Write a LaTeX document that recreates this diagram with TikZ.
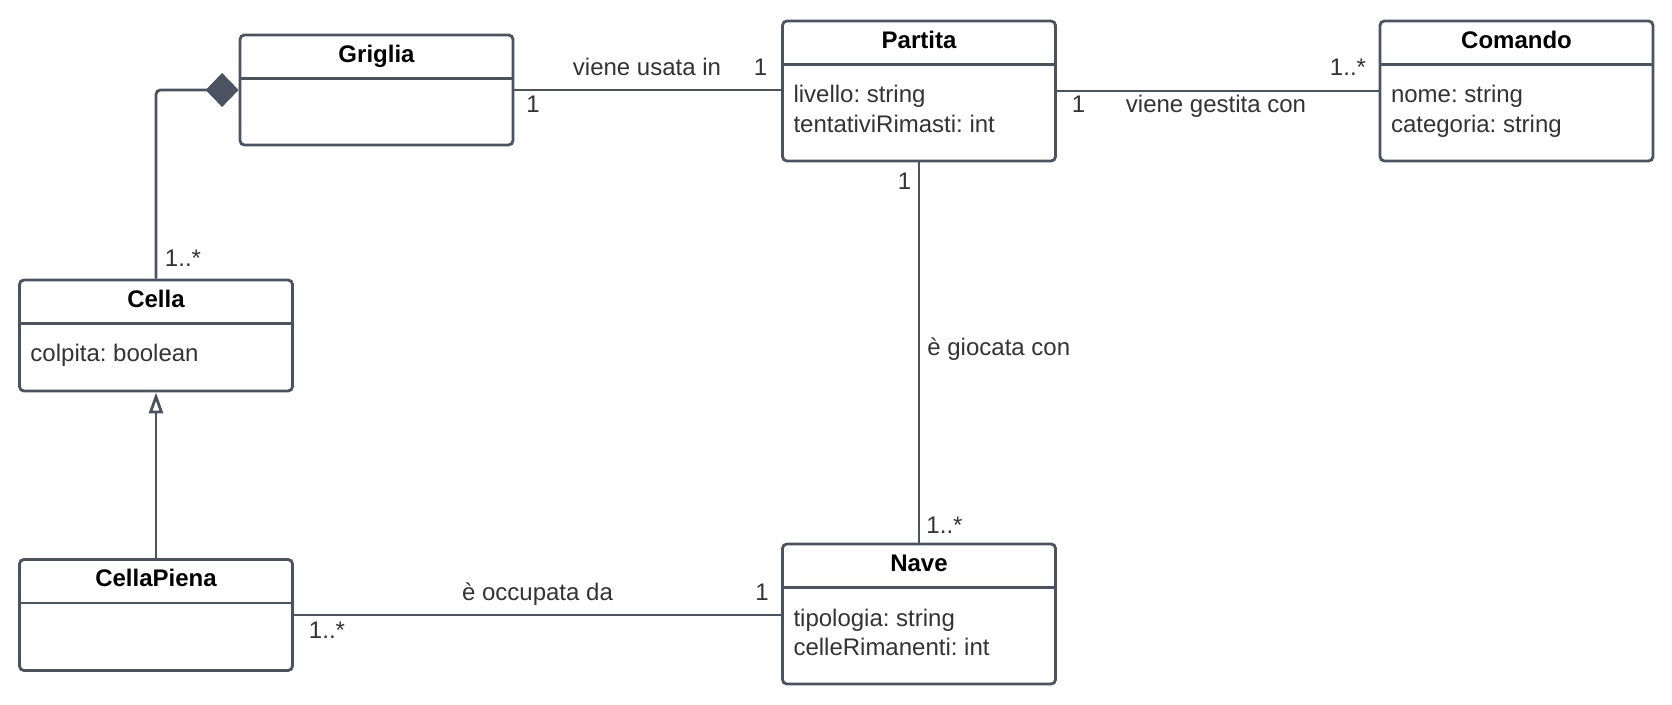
\documentclass[tikz,border=0pt]{standalone}
\usepackage{fontspec}
\setmainfont{Liberation Sans}
\frenchspacing
\usetikzlibrary{positioning,arrows.meta}

\definecolor{umlline}{HTML}{4B5260}
\definecolor{umltext}{HTML}{333333}

\begin{document}
\begin{tikzpicture}[x=0.5pt,y=-0.5pt,
  classbox/.style={draw=umlline,line width=1.4pt,rounded corners=2.2pt,minimum width=136.5pt,inner sep=0pt},
  classname/.style={anchor=base,inner sep=0pt,font=\fontsize{12pt}{14.3pt}\selectfont\bfseries},
  attr/.style={anchor=base west,inner sep=0pt,text=umltext,font=\fontsize{12pt}{14.3pt}\selectfont},
  lbl/.style={anchor=base,inner sep=0pt,text=umltext,font=\fontsize{12pt}{14.3pt}\selectfont},
  link/.style={draw=umlline,line width=1.4pt}]
\useasboundingbox (0,0) rectangle (1672,705);
% classes
\node[classbox,minimum height=55pt] (griglia) at (376.5,90) {};
\node[classbox,minimum height=70pt] (partita) at (919,91) {};
\node[classbox,minimum height=70pt] (comando) at (1516.5,91) {};
\node[classbox,minimum height=55.5pt] (cella) at (156,335.5) {};
\node[classbox,minimum height=55.5pt] (cellapiena) at (156,615) {};
\node[classbox,minimum height=70pt] (nave) at (919,614) {};
\foreach \c in {griglia,partita,comando,cella,cellapiena,nave}
  \draw[umlline,line width=1.4pt] ([yshift=-22.5pt]\c.north west) -- ([yshift=-22.5pt]\c.north east);
\node[classname] (griglia-t) at ([yshift=-14.4pt]griglia.north) {Griglia};
\node[classname] (partita-t) at ([yshift=-14.4pt]partita.north) {Partita};
\node[classname] (comando-t) at ([yshift=-14.4pt]comando.north) {Comando};
\node[classname] (cella-t) at ([yshift=-14.4pt]cella.north) {Cella};
\node[classname] (cellapiena-t) at ([yshift=-14.4pt]cellapiena.north) {CellaPiena};
\node[classname] (nave-t) at ([yshift=-14.4pt]nave.north) {Nave};
% attributes
\node[attr] (partita-a1) at ([xshift=6pt,yshift=-41.7pt]partita.north west) {livello: string};
\node[attr] (partita-a2) at ([xshift=6pt,yshift=-56.3pt]partita.north west) {tentativiRimasti: int};
\node[attr] (comando-a1) at ([xshift=6pt,yshift=-41.7pt]comando.north west) {nome: string};
\node[attr] (comando-a2) at ([xshift=6pt,yshift=-56.3pt]comando.north west) {categoria: string};
\node[attr] (cella-a1) at ([xshift=6pt,yshift=-41.7pt]cella.north west) {colpita: boolean};
\node[attr] (nave-a1) at ([xshift=6pt,yshift=-41.7pt]nave.north west) {tipologia: string};
\node[attr] (nave-a2) at ([xshift=6pt,yshift=-56.3pt]nave.north west) {celleRimanenti: int};
% links
\draw[link] (griglia.east) -- (griglia.east -| partita.west);
\draw[link] (partita.east) -- (comando.west);
\draw[link] (partita.south) -- (nave.north);
\draw[link] (cellapiena.east) -- (cellapiena.east -| nave.west);
\draw[link,rounded corners=2.2pt,{Diamond[length=16.5pt,width=17pt]}-] (griglia.west) -| (cella.north);
\draw[link,-{Triangle[open,length=10.5pt,width=7pt,fill=white]}] (cellapiena.north) -- (cella.south);
% labels
\node[lbl] (usata) at (647,75.7) {viene usata in};
\node[lbl] (m-gp1) at (760.5,75.7) {1};
\node[lbl] (m-gp2) at (533,112.7) {1};
\node[lbl] (gestita) at (1216,113) {viene gestita con};
\node[lbl] (m-pc1) at (1078.5,113) {1};
\node[lbl] (m-pc2) at (1348,75.7) {1..*};
\node[lbl] (m-pn1) at (904.5,189.3) {1};
\node[lbl,anchor=base west] (giocata) at (927,356) {è giocata con};
\node[lbl] (m-pn2) at (944.5,533.3) {1..*};
\node[lbl] (occupata) at (537.5,600.7) {è occupata da};
\node[lbl] (m-cn1) at (762,600.7) {1};
\node[lbl] (m-cn2) at (327,639) {1..*};
\node[lbl] (m-gc) at (183,266.7) {1..*};
\end{tikzpicture}
\end{document}
